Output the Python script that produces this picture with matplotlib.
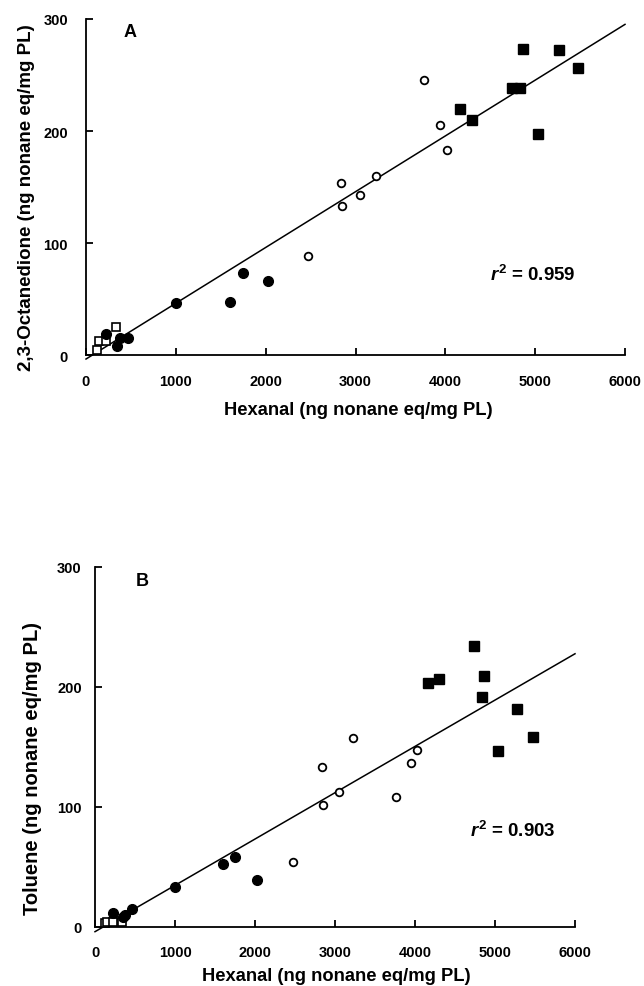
#!/usr/bin/env python3
"""Hexanal vs. 2,3-octanedione (A) and toluene (B) scatter with regression lines."""

import matplotlib
matplotlib.use("Agg")
import matplotlib.pyplot as plt
import numpy as np

plt.rcParams["font.family"] = ["Liberation Sans", "DejaVu Sans"]
plt.rcParams["font.weight"] = "bold"
plt.rcParams["mathtext.fontset"] = "custom"
plt.rcParams["mathtext.rm"] = "Liberation Sans:bold"
plt.rcParams["mathtext.it"] = "Liberation Sans:italic:bold"
plt.rcParams["mathtext.bf"] = "Liberation Sans:bold"

# hexanal (x) per group, shared by both panels
HEX_OPEN_SQ = [120, 145, 227, 339]
HEX_FILLED_CIRC = [227, 349, 377, 465, 1005, 1605, 1748, 2022]
HEX_OPEN_CIRC = [2473, 2841, 2848, 3047, 3224, 3763, 3946, 4019]
HEX_FILLED_SQ = [4168, 4300, 4739, 4836, 4867, 5034, 5270, 5479]

# panel A: 2,3-octanedione
OCT_OPEN_SQ = [4.5, 12.8, 12.8, 25]
OCT_FILLED_CIRC = [18.8, 8.3, 14.9, 14.9, 46, 47, 73, 66]
OCT_OPEN_CIRC = [88, 154, 133, 143, 160, 245.5, 205, 183]
OCT_FILLED_SQ = [220, 209.5, 238, 238, 273, 197.6, 272, 256]
OCT_FIT = (0.0498, -3.6)  # slope, intercept
OCT_R2 = "0.959"

# panel B: toluene
TOL_OPEN_SQ = [3.5, 4.5, 4.5, 4.5]
TOL_FILLED_CIRC = [11.7, 8, 10, 15, 33.6, 52.5, 58, 39.5]
TOL_OPEN_CIRC = [54.5, 133, 101.7, 112.8, 157.5, 108.6, 136.4, 147.5]
TOL_FILLED_SQ = [203.6, 206.7, 234.4, 191.4, 209.4, 146.4, 182, 158.6]
TOL_FIT = (0.0386, -3.9)
TOL_R2 = "0.903"

FIT_X = [0, 6000]
X_TICKS = [0, 1000, 2000, 3000, 4000, 5000, 6000]
Y_TICKS = [0, 100, 200, 300]

XLABEL = "Hexanal (ng nonane eq/mg PL)"


def draw_panel(ax, ys, fit, r2, letter, ylabel, r2_pos, letter_pos,
               xpad, ypad, xlabel_xy, ylabel_xy, ylabel_size):
    open_sq, filled_circ, open_circ, filled_sq = ys
    slope, intercept = fit
    fx = np.array(FIT_X, dtype=float)
    ax.plot(fx, slope * fx + intercept, color="black", lw=1.1, clip_on=False, zorder=2)

    ax.plot(HEX_OPEN_SQ, open_sq, "s", ms=6, mfc="white", mec="black", mew=1.2,
            clip_on=False, zorder=3)
    ax.plot(HEX_FILLED_CIRC, filled_circ, "o", ms=7, mfc="black", mec="black",
            clip_on=False, zorder=3)
    ax.plot(HEX_OPEN_CIRC, open_circ, "o", ms=5.5, mfc="white", mec="black", mew=1.3,
            clip_on=False, zorder=3)
    ax.plot(HEX_FILLED_SQ, filled_sq, "s", ms=6.8, mfc="black", mec="black",
            clip_on=False, zorder=3)

    ax.set_xlim(0, 6000)
    ax.set_ylim(0, 300)
    ax.set_xticks(X_TICKS)
    ax.set_yticks(Y_TICKS)
    for side in ("top", "right"):
        ax.spines[side].set_visible(False)
    for side in ("left", "bottom"):
        ax.spines[side].set_linewidth(1.3)
    ax.tick_params(axis="both", direction="in", length=5, width=1.3)
    ax.tick_params(axis="x", pad=xpad, labelsize=10.5)
    ax.tick_params(axis="y", pad=ypad, labelsize=10.5)
    for lab in ax.get_xticklabels() + ax.get_yticklabels():
        lab.set_fontweight("bold")

    ax.set_xlabel(XLABEL, fontsize=13.2, fontweight="bold", va="center")
    ax.xaxis.set_label_coords(*xlabel_xy)
    ax.set_ylabel(ylabel, fontsize=ylabel_size, fontweight="bold", va="center")
    ax.yaxis.set_label_coords(*ylabel_xy)

    ax.text(*r2_pos, r"$r^2$ = " + r2, fontsize=13.5, fontweight="bold",
            ha="left", va="center")
    ax.text(*letter_pos, letter, fontsize=13, fontweight="bold",
            ha="center", va="center")


fig = plt.figure(figsize=(6.44, 9.87), dpi=100)
ax_a = fig.add_axes([86 / 644, 1 - 356 / 987, 539 / 644, 336 / 987])
ax_b = fig.add_axes([95 / 644, 1 - 928 / 987, 480 / 644, 360 / 987])

draw_panel(ax_a, (OCT_OPEN_SQ, OCT_FILLED_CIRC, OCT_OPEN_CIRC, OCT_FILLED_SQ),
           OCT_FIT, OCT_R2, "A", "2,3-Octanedione (ng nonane eq/mg PL)",
           r2_pos=(4500, 72), letter_pos=(490, 289), xpad=13.5, ypad=13,
           xlabel_xy=(0.506, -0.161), ylabel_xy=(-0.111, 0.47), ylabel_size=13.5)
draw_panel(ax_b, (TOL_OPEN_SQ, TOL_FILLED_CIRC, TOL_OPEN_CIRC, TOL_FILLED_SQ),
           TOL_FIT, TOL_R2, "B", "Toluene (ng nonane eq/mg PL)",
           r2_pos=(4690, 81), letter_pos=(595, 289), xpad=13, ypad=9.5,
           xlabel_xy=(0.502, -0.136), ylabel_xy=(-0.131, 0.444), ylabel_size=14.5)

fig.savefig("out.png", dpi=100)
